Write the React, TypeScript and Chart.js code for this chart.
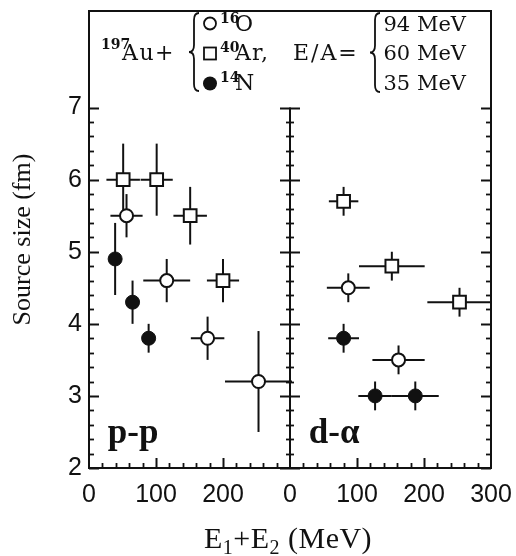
import React, { useEffect, useRef } from 'react';
import { Chart, registerables } from 'chart.js';

Chart.register(...registerables);

// ---- axes ----
const PANEL_SPAN = 300; // each panel runs 0..300 MeV
const Y_MIN = 2;
const Y_MAX = 8.34;
const Y_MAJOR_TICKS = [2, 3, 4, 5, 6, 7];
const X_TICK_VALUES = [0, 100, 200, 300, 400, 500, 600];
const X_TICK_LABELS = ['0', '100', '200', '0', '100', '200', '300'];

// ---- p-p panel ----
const ppO16X = [56, 116, 177, 253];
const ppO16Y = [5.5, 4.6, 3.8, 3.2];
const ppO16XErr = [24, 35, 25, 50];
const ppO16YErr = [0.3, 0.3, 0.3, 0.7];

const ppAr40X = [51, 101, 151, 200];
const ppAr40Y = [6.0, 6.0, 5.5, 4.6];
const ppAr40XErr = [25, 24, 25, 24];
const ppAr40YErr = [0.5, 0.5, 0.4, 0.3];

const ppN14X = [39, 65, 89];
const ppN14Y = [4.9, 4.3, 3.8];
const ppN14XErr = [0, 0, 0];
const ppN14YErr = [0.5, 0.3, 0.2];

// ---- d-alpha panel ----
const daO16X = [87, 162];
const daO16Y = [4.5, 3.5];
const daO16XErr = [32, 39];
const daO16YErr = [0.2, 0.2];

const daAr40X = [80, 152, 253];
const daAr40Y = [5.7, 4.8, 4.3];
const daAr40XErr = [22, 49, 48];
const daAr40YErr = [0.2, 0.2, 0.2];

const daN14X = [80, 127, 187];
const daN14Y = [3.8, 3.0, 3.0];
const daN14XErr = [23, 25, 35];
const daN14YErr = [0.2, 0.2, 0.2];

const INK = '#111';
const SANS = '"Liberation Sans", Arial, Helvetica, sans-serif';
const SERIF = '"Liberation Serif", "Times New Roman", serif';
const LEG = '"DejaVu Serif", serif';

type Pt = { x: number; y: number; xErr: number; yErr: number };

function makePoints(xs: number[], ys: number[], xe: number[], ye: number[], offset: number): Pt[] {
  return xs.map((x, i) => ({ x: x + offset, y: ys[i], xErr: xe[i], yErr: ye[i] }));
}

const circleStyle = { pointStyle: 'circle', pointRadius: 6.5, pointBorderWidth: 2, pointBorderColor: INK, pointBackgroundColor: '#fff' };
const squareStyle = { pointStyle: 'rect', pointRadius: 9, pointBorderWidth: 2, pointBorderColor: INK, pointBackgroundColor: '#fff' };
const filledStyle = { pointStyle: 'circle', pointRadius: 7, pointBorderWidth: 1, pointBorderColor: INK, pointBackgroundColor: INK };

function drawBrace(ctx: CanvasRenderingContext2D, xL: number, xR: number, yT: number, yB: number) {
  const xm = (xL + xR) / 2;
  const ym = (yT + yB) / 2;
  ctx.beginPath();
  ctx.moveTo(xR, yT);
  ctx.quadraticCurveTo(xm, yT, xm, yT + 7);
  ctx.lineTo(xm, ym - 7);
  ctx.quadraticCurveTo(xm, ym, xL, ym);
  ctx.quadraticCurveTo(xm, ym, xm, ym + 7);
  ctx.lineTo(xm, yB - 7);
  ctx.quadraticCurveTo(xm, yB, xR, yB);
  ctx.stroke();
}

const framePlugin = {
  id: 'physFrame',
  beforeDatasetsDraw(chart: any) {
    const { ctx, chartArea: a } = chart;
    const xs = chart.scales.x;
    const ys = chart.scales.y;
    const line = (x1: number, y1: number, x2: number, y2: number) => {
      ctx.beginPath();
      ctx.moveTo(x1, y1);
      ctx.lineTo(x2, y2);
      ctx.stroke();
    };
    ctx.save();
    ctx.strokeStyle = INK;
    ctx.lineWidth = 2;
    ctx.strokeRect(a.left, a.top, a.right - a.left, a.bottom - a.top);
    const xd = xs.getPixelForValue(PANEL_SPAN);
    const yTop = ys.getPixelForValue(Y_MAJOR_TICKS[Y_MAJOR_TICKS.length - 1]);
    line(xd, yTop, xd, a.bottom);
    // y ticks: major every 1, minor every 0.2
    const yFirst = Y_MAJOR_TICKS[0];
    const yLast = Y_MAJOR_TICKS[Y_MAJOR_TICKS.length - 1];
    const nMinor = Math.round((yLast - yFirst) / 0.2);
    for (let i = 0; i <= nMinor; i++) {
      const val = yFirst + i * 0.2;
      const major = i % 5 === 0;
      const py = Math.round(ys.getPixelForValue(val)) + 0.5;
      ctx.lineWidth = major ? 2 : 1.8;
      const L = major ? 10 : 5;
      line(a.left, py, a.left + L, py);
      line(a.right - L, py, a.right, py);
      const d = major ? 10 : 4;
      line(xd - d, py, xd + d, py);
    }
    // x ticks: major every 100, minor every 20
    for (let v = 0; v <= 2 * PANEL_SPAN; v += 20) {
      if (v % PANEL_SPAN === 0) continue;
      const px = Math.round(xs.getPixelForValue(v)) + 0.5;
      const major = v % 100 === 0;
      ctx.lineWidth = major ? 2 : 1.8;
      line(px, a.bottom, px, a.bottom - (major ? 10 : 5));
    }
    // error bars
    ctx.lineWidth = 2;
    chart.data.datasets.forEach((ds: any) => {
      ds.data.forEach((p: Pt) => {
        const px = xs.getPixelForValue(p.x);
        const py = ys.getPixelForValue(p.y);
        if (p.yErr > 0) line(px, ys.getPixelForValue(p.y + p.yErr), px, ys.getPixelForValue(p.y - p.yErr));
        if (p.xErr > 0) line(xs.getPixelForValue(p.x - p.xErr), py, xs.getPixelForValue(p.x + p.xErr), py);
      });
    });
    ctx.restore();
  },
  afterDraw(chart: any) {
    const { ctx } = chart;
    const xs = chart.scales.x;
    const ys = chart.scales.y;
    ctx.save();
    ctx.fillStyle = INK;
    ctx.strokeStyle = INK;
    ctx.textBaseline = 'alphabetic';
    ctx.textAlign = 'left';
    const setSpacing = (s: string) => {
      (ctx as any).letterSpacing = s;
    };

    // legend block
    const sup = 'bold 14px ' + LEG;
    const main = '22px ' + LEG;
    ctx.font = sup;
    setSpacing('0px');
    ctx.fillText('197', 101, 49);
    ctx.font = main;
    setSpacing('1.5px');
    ctx.fillText('Au+', 122, 60);
    ctx.lineWidth = 1.8;
    drawBrace(ctx, 189, 199, 13, 91);
    // markers
    ctx.lineWidth = 1.8;
    ctx.beginPath();
    ctx.arc(210, 23.5, 6, 0, Math.PI * 2);
    ctx.stroke();
    ctx.strokeRect(204, 47.5, 12, 12);
    ctx.beginPath();
    ctx.arc(210, 83.5, 7, 0, Math.PI * 2);
    ctx.fill();
    const rows: [string, string, number][] = [
      ['16', 'O', 31],
      ['40', 'Ar,', 60],
      ['14', 'N', 90],
    ];
    rows.forEach(([s, m, b]) => {
      ctx.font = sup;
      setSpacing('0px');
      ctx.fillText(s, 220, b - 8);
      ctx.font = main;
      setSpacing('1px');
      ctx.fillText(m, 235, b);
    });
    ctx.font = main;
    setSpacing('2px');
    ctx.fillText('E/A=', 293, 60);
    setSpacing('0px');
    ctx.lineWidth = 1.8;
    drawBrace(ctx, 370, 380, 13, 92);
    ctx.font = '21px ' + LEG;
    ctx.textAlign = 'right';
    ctx.fillText('94 MeV', 466, 31);
    ctx.fillText('60 MeV', 466, 60);
    ctx.fillText('35 MeV', 466, 90);

    // panel labels
    ctx.textAlign = 'left';
    ctx.font = 'bold 35px ' + SERIF;
    const lblY = ys.getPixelForValue(2.34);
    ctx.fillText('p-p', xs.getPixelForValue(28), lblY);
    ctx.fillText('d-\u03b1', xs.getPixelForValue(PANEL_SPAN + 28), lblY);

    // x title with subscripts
    const big = '30px ' + SERIF;
    const small = '20px ' + SERIF;
    const parts: [string, boolean][] = [
      ['E', false], ['1', true], ['+E', false], ['2', true], [' (MeV)', false],
    ];
    setSpacing('0.5px');
    let total = 0;
    parts.forEach(([t, s]) => {
      ctx.font = s ? small : big;
      total += ctx.measureText(t).width;
    });
    const cx = (chart.chartArea.left + chart.chartArea.right) / 2 - 2;
    let x0 = cx - total / 2;
    const base = 548;
    parts.forEach(([t, s]) => {
      ctx.font = s ? small : big;
      ctx.fillText(t, x0, s ? base + 6 : base);
      x0 += ctx.measureText(t).width;
    });
    setSpacing('0px');
    ctx.restore();
  },
};

export default function App() {
  const ref = useRef<HTMLCanvasElement | null>(null);
  useEffect(() => {
    if (!ref.current) return;
    const datasets: any[] = [
      { label: '16O p-p', data: makePoints(ppO16X, ppO16Y, ppO16XErr, ppO16YErr, 0), ...circleStyle },
      { label: '40Ar p-p', data: makePoints(ppAr40X, ppAr40Y, ppAr40XErr, ppAr40YErr, 0), ...squareStyle },
      { label: '14N p-p', data: makePoints(ppN14X, ppN14Y, ppN14XErr, ppN14YErr, 0), ...filledStyle },
      { label: '16O d-a', data: makePoints(daO16X, daO16Y, daO16XErr, daO16YErr, PANEL_SPAN), ...circleStyle },
      { label: '40Ar d-a', data: makePoints(daAr40X, daAr40Y, daAr40XErr, daAr40YErr, PANEL_SPAN), ...squareStyle },
      { label: '14N d-a', data: makePoints(daN14X, daN14Y, daN14XErr, daN14YErr, PANEL_SPAN), ...filledStyle },
    ];
    const chart = new Chart(ref.current, {
      type: 'scatter',
      data: { datasets: datasets.map((d) => ({ ...d, showLine: false, clip: false })) },
      options: {
        animation: false,
        responsive: false,
        devicePixelRatio: 1,
        layout: { padding: { left: 0, top: 5, right: 25, bottom: 0 } },
        plugins: { legend: { display: false }, tooltip: { enabled: false } },
        scales: {
          x: {
            type: 'linear',
            min: 0,
            max: 2 * PANEL_SPAN,
            grid: { display: false, drawTicks: false },
            border: { display: false },
            afterBuildTicks: (s: any) => {
              s.ticks = X_TICK_VALUES.map((v) => ({ value: v }));
            },
            ticks: {
              autoSkip: false,
              maxRotation: 0,
              padding: 12,
              color: INK,
              font: { family: SANS, size: 25 },
              callback: (_v: any, i: number) => X_TICK_LABELS[i],
            },
            afterFit: (s: any) => {
              s.height = 88;
              s.paddingLeft = 0;
              s.paddingRight = 0;
            },
          },
          y: {
            type: 'linear',
            min: Y_MIN,
            max: Y_MAX,
            grid: { display: false, drawTicks: false },
            border: { display: false },
            afterBuildTicks: (s: any) => {
              s.ticks = Y_MAJOR_TICKS.map((v) => ({ value: v }));
            },
            ticks: {
              padding: 7,
              color: INK,
              font: { family: SANS, size: 25, lineHeight: 0.2 },
              callback: (v: any) => String(v),
            },
            title: {
              display: true,
              text: 'Source size (fm)',
              color: INK,
              font: { family: SERIF, size: 26 },
              padding: { top: 8, bottom: 0 },
            },
            afterFit: (s: any) => {
              s.width = 89;
              s.paddingTop = 0;
              s.paddingBottom = 0;
            },
          },
        },
      } as any,
      plugins: [framePlugin],
    });
    return () => chart.destroy();
  }, []);
  return (
    <div style={{ position: 'absolute', left: 0, top: 0, width: 516, height: 556, background: '#fff' }}>
      <canvas ref={ref} width={516} height={556} style={{ width: 516, height: 556, display: 'block' }} />
    </div>
  );
}
